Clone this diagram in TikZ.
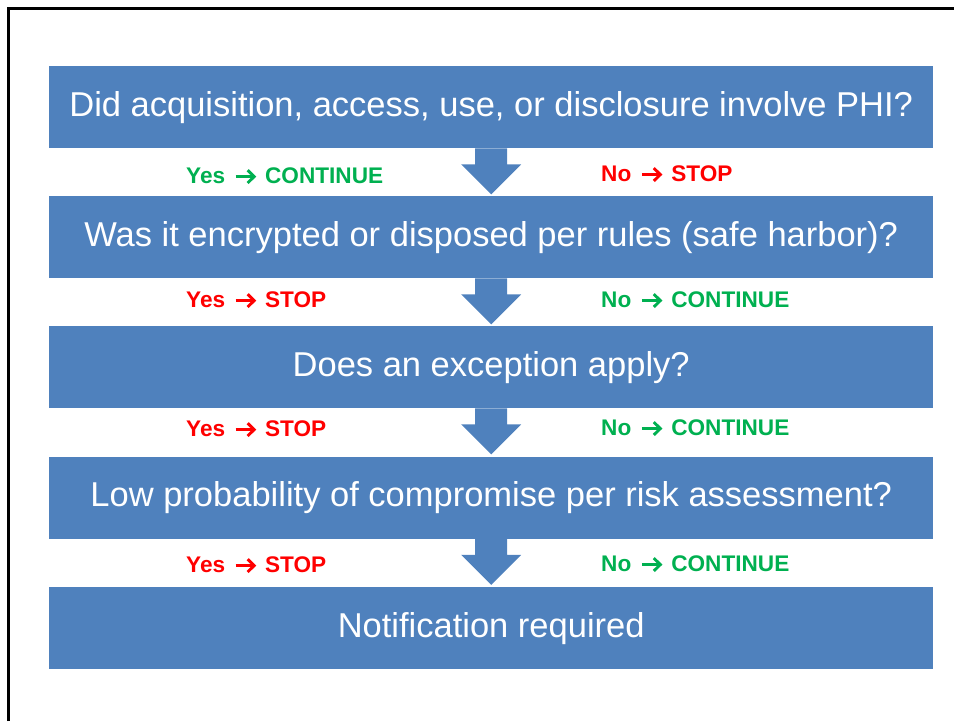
\documentclass[tikz,border=0pt]{standalone}
\usepackage{fontspec}
\setmainfont{Liberation Sans}
% bold chevron arrow set between the words of an answer label
\newcommand{\thenarrow}[1]{\hspace{9pt}\tikz[x=1pt,y=1pt,baseline=0pt]{%
  \draw[#1,line width=2.9pt,line join=miter] (0,6.8) -- (18,6.8);
  \draw[#1,line width=2.9pt,line join=miter] (12,13.2) -- (18.6,6.8) -- (12,0.4);}\hspace{9.5pt}}
\begin{document}
\begin{tikzpicture}[x=1pt,y=-1pt,
  stepbox/.style={fill=boxblue, draw=none, minimum width=884pt, minimum height=82pt,
    inner sep=0pt, text=white, font=\fontsize{34.5}{40}\selectfont, anchor=north west},
  yeslbl/.style={anchor=west, inner sep=0pt, font=\bfseries\fontsize{22.6}{26}\selectfont},
  go/.style={yeslbl, text=gogreen},
  halt/.style={yeslbl, text=haltred},
  downarrow/.style={fill=boxblue, draw=none}
]
\definecolor{boxblue}{HTML}{4F81BD}
\definecolor{gogreen}{HTML}{00B050}
\definecolor{haltred}{HTML}{FF0000}
\useasboundingbox (0,0) rectangle (954,721);
% frame lines along the top and left
\draw[line width=2.2pt] (8.5,721) -- (8.5,8.5) -- (954,8.5);

% question boxes
\node[stepbox] (q1) at (49,66) {Did acquisition, access, use, or disclosure involve PHI?};
\node[stepbox] (q2) at (49,196) {Was it encrypted or disposed per rules (safe harbor)?};
\node[stepbox] (q3) at (49,326) {Does an exception apply?};
\node[stepbox] (q4) at (49,456.5) {Low probability of compromise per risk assessment?};
\node[stepbox] (q5) at (49,587) {Notification required};

% block arrows between the boxes
\foreach \a/\b in {q1/q2,q2/q3,q3/q4,q4/q5}{
  \fill[downarrow] ([xshift=-16pt]\a.south) -- ++(0,16) -- ++(-14,0) -- ([yshift=-46pt]\a.south)
    -- ++(30,-30) -- ++(-14,0) -- ++(0,-16) -- cycle;
}

% answer labels
\node[go]   (y1) at (186,176) {Yes\thenarrow{gogreen}CONTINUE};
\node[halt] (n1) at (601,174) {No\thenarrow{haltred}STOP};
\node[halt] (y2) at (186,300) {Yes\thenarrow{haltred}STOP};
\node[go]   (n2) at (601,300) {No\thenarrow{gogreen}CONTINUE};
\node[halt] (y3) at (186,429) {Yes\thenarrow{haltred}STOP};
\node[go]   (n3) at (601,428) {No\thenarrow{gogreen}CONTINUE};
\node[halt] (y4) at (186,565) {Yes\thenarrow{haltred}STOP};
\node[go]   (n4) at (601,564) {No\thenarrow{gogreen}CONTINUE};
\end{tikzpicture}
\end{document}
